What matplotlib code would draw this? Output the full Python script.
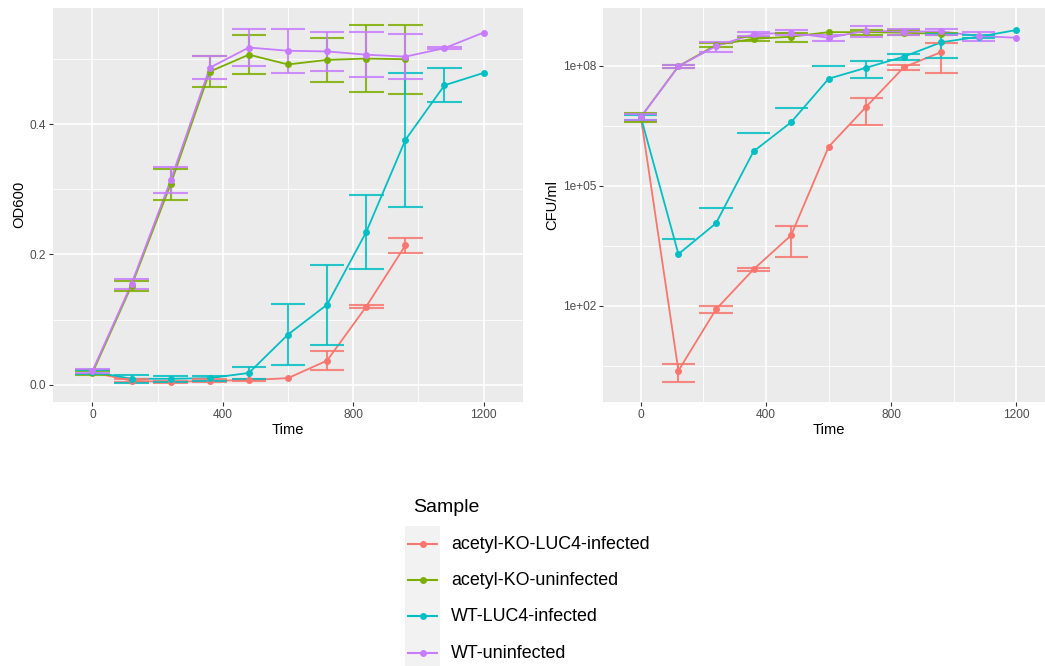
import numpy as np
import matplotlib
matplotlib.use("Agg")
import matplotlib.pyplot as plt
from matplotlib.patches import Rectangle
from matplotlib.lines import Line2D

plt.rcParams["font.family"] = ["Liberation Sans", "DejaVu Sans"]

# ---- data -------------------------------------------------------------
samples = ["acetyl-KO-LUC4-infected", "acetyl-KO-uninfected",
           "WT-LUC4-infected", "WT-uninfected"]
colors = ["#F8766D", "#7CAE00", "#00BFC4", "#C77CFF"]

time_full = [0, 120, 240, 360, 480, 600, 720, 840, 960, 1080, 1200]
time_ko = [0, 120, 240, 360, 480, 600, 720, 840, 960]

# OD600 means and standard deviations (nan = no error bar)
od_ko_inf = [0.019, 0.006, 0.004, 0.006, 0.007, 0.010, 0.037, 0.120, 0.214]
od_ko_inf_sd = [0.003, 0.002, 0.002, 0.002, 0.002, np.nan, 0.015, 0.0023, 0.011]
od_ko_uninf = [0.018, 0.152, 0.308, 0.481, 0.507, 0.492, 0.499, 0.501, 0.500]
od_ko_uninf_sd = [0.003, 0.008, 0.024, 0.024, 0.030, np.nan, 0.034, 0.051, 0.053]
od_wt_inf = [0.020, 0.009, 0.009, 0.010, 0.018, 0.077, 0.123, 0.2345, 0.376, 0.460, 0.479]
od_wt_inf_sd = [0.003, 0.006, 0.005, 0.004, 0.0087, 0.0466, 0.0614, 0.0563, 0.1034, 0.026, np.nan]
od_wt_uninf = [0.021, 0.155, 0.314, 0.487, 0.518, 0.513, 0.512, 0.507, 0.504, 0.517, 0.541]
od_wt_uninf_sd = [0.003, 0.008, 0.020, 0.018, 0.028, 0.034, 0.030, 0.035, 0.035, 0.002, np.nan]

# CFU/ml means and standard deviations
cfu_ko_inf = [5.2e6, 2.37, 81, 810, 5750, 9.4e5, 9.4e6, 9.1e7, 2.2e8]
cfu_ko_inf_sd = [1.0e6, 1.15, 17, 60, 4070, np.nan, 6.1e6, 1.35e7, 1.55e8]
cfu_ko_uninf = [5.2e6, 9.7e7, 3.3e8, 4.7e8, 5.3e8, 6.9e8, 6.9e8, 6.7e8, 6.2e8]
cfu_ko_uninf_sd = [1.3e6, 1.0e7, 4.3e7, 5.5e7, 1.4e8, np.nan, 1.0e8, 9e7, 5e7]
cfu_wt_inf = [5.2e6, 1950, 11500, 7.2e5, 3.85e6, 4.73e7, 8.9e7, 1.68e8, 3.85e8, 5.3e8, 7.8e8]
cfu_wt_inf_sd = [8e5, 2780, 16000, 1.4e6, 5.05e6, 5.1e7, 4.1e7, 3.2e7, 2.3e8, 4e7, np.nan]
cfu_wt_uninf = [5.2e6, 9.6e7, 3.1e8, 6.1e8, 6.7e8, 5.0e8, 7.5e8, 7.1e8, 7.2e8, 5.5e8, 5.0e8]
cfu_wt_uninf_sd = [9e5, 1.0e7, 9e7, 7e7, 1e8, 7.5e7, 2.2e8, 1.4e8, 1.3e8, 1.4e8, np.nan]

times = [time_ko, time_ko, time_full, time_full]
od = [(od_ko_inf, od_ko_inf_sd), (od_ko_uninf, od_ko_uninf_sd),
      (od_wt_inf, od_wt_inf_sd), (od_wt_uninf, od_wt_uninf_sd)]
cfu = [(cfu_ko_inf, cfu_ko_inf_sd), (cfu_ko_uninf, cfu_ko_uninf_sd),
       (cfu_wt_inf, cfu_wt_inf_sd), (cfu_wt_uninf, cfu_wt_uninf_sd)]

# ---- styling helpers -------------------------------------------------
PANEL = "#EBEBEB"
TICK_COL = "#4D4D4D"
CAP_HALF = 53
LINE_W = 1.3
BAR_W = 1.5
MARK = 5.0


def style_axes(ax):
    ax.set_facecolor(PANEL)
    for sp in ax.spines.values():
        sp.set_visible(False)
    ax.grid(which="major", color="white", linewidth=1.2)
    ax.grid(which="minor", color="white", linewidth=0.6)
    ax.set_axisbelow(True)
    ax.tick_params(which="major", length=2.75, width=0.8, color="#333333",
                   labelsize=8.6, labelcolor=TICK_COL, pad=2.2)
    ax.tick_params(which="minor", length=0)
    ax.set_xlim(-120, 1320)
    ax.set_xticks([0, 400, 800, 1200])
    ax.set_xticks([200, 600, 1000], minor=True)
    ax.set_xlabel("Time", fontsize=10.6, labelpad=2)


def draw_errorbars(ax, t, m, s, color, log=False):
    t = np.asarray(t, float)
    m = np.asarray(m, float)
    s = np.asarray(s, float)
    ok = ~np.isnan(s)
    t, m, s = t[ok], m[ok], s[ok]
    hi = m + s
    lo = m - s
    kw = dict(color=color, linewidth=BAR_W, alpha=0.85, zorder=3)
    ax.hlines(hi, t - CAP_HALF, t + CAP_HALF, **kw)
    # on a log axis a non-positive lower end leaves only the upper cap
    full = lo > 0 if log else np.ones_like(lo, bool)
    ax.vlines(t[full], lo[full], hi[full], **kw)
    ax.hlines(lo[full], t[full] - CAP_HALF, t[full] + CAP_HALF, **kw)


def draw_series(ax, data, log=False):
    for t, (m, s), c in zip(times, data, colors):
        ax.plot(t, m, color=c, linewidth=LINE_W, zorder=2)
        ax.plot(t, m, "o", color=c, markersize=MARK, markeredgewidth=0, zorder=4)
        draw_errorbars(ax, t, m, s, c, log=log)


fig = plt.figure(figsize=(10.45, 6.66), dpi=100)

# ---- OD600 panel -----------------------------------------------------
ax1 = fig.add_axes([53.3 / 1045, 1 - 401.7 / 666, 469.4 / 1045, 394.2 / 666])
style_axes(ax1)
draw_series(ax1, od)
ax1.set_ylim(-0.0262, 0.5795)
ax1.set_yticks([0.0, 0.2, 0.4])
ax1.set_yticklabels(["0.0", "0.2", "0.4"])
ax1.set_yticks([0.1, 0.3, 0.5], minor=True)
ax1.set_ylabel("OD600", fontsize=10.6, labelpad=3)

# ---- CFU panel -------------------------------------------------------
ax2 = fig.add_axes([603.3 / 1045, 1 - 401.7 / 666, 450.7 / 1045, 394.2 / 666])
style_axes(ax2)
ax2.set_yscale("log")
draw_series(ax2, cfu, log=True)
ax2.set_ylim(10 ** -0.40, 10 ** 9.455)
ax2.set_yticks([1e2, 1e5, 1e8])
ax2.set_yticklabels(["1e+02", "1e+05", "1e+08"])
ax2.set_yticks([10 ** 0.5, 10 ** 3.5, 10 ** 6.5], minor=True)
ax2.yaxis.set_minor_formatter(matplotlib.ticker.NullFormatter())
ax2.set_ylabel("CFU/ml", fontsize=10.6, labelpad=3)

# ---- legend ----------------------------------------------------------
lg = fig.add_axes([0, 0, 1, 1], zorder=5)
lg.set_xlim(0, 1045)
lg.set_ylim(666, 0)
lg.axis("off")
lg.text(413, 512, "Sample", fontsize=14, va="baseline", ha="left")
lg.add_patch(Rectangle((405, 526), 35, 145, facecolor="#F2F2F2", edgecolor="none"))
for i, (name, c) in enumerate(zip(samples, colors)):
    y = 544 + i * 36.2
    lg.add_line(Line2D([408, 437], [y, y], color=c, linewidth=BAR_W))
    lg.add_line(Line2D([422.5], [y], marker="o", color=c, markersize=MARK,
                       markeredgewidth=0))
    lg.text(451, y + 0.5, name, fontsize=12.9, va="center", ha="left")

fig.savefig("out.png", dpi=100)
